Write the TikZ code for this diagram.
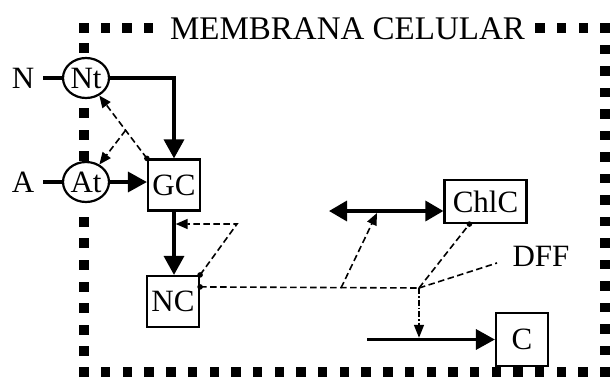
\documentclass[tikz,border=0pt]{standalone}
\usepackage{fontspec}
\setmainfont{Liberation Serif}
\usetikzlibrary{arrows.meta,shapes.geometric,calc}
\begin{document}
\begin{tikzpicture}[x=1pt,y=-1pt,
  every node/.style={font=\fontsize{31}{34}\selectfont},
  oval/.style={ellipse,draw,line width=2.2pt,inner sep=0pt,minimum width=46pt,minimum height=40pt},
  boxn/.style={rectangle,draw,line width=2.2pt,inner sep=0pt,minimum width=52pt,minimum height=51pt},
  lbl/.style={inner sep=0pt},
  thickln/.style={line width=3.4pt},
  thickarr/.style={line width=3.4pt,-{Triangle[length=19pt,width=20pt]}},
  dsh/.style={line width=1.6pt,dash pattern=on 6.5pt off 3.5pt},
  dsharr/.style={dsh,-{Triangle[length=12pt,width=10pt]}},
  dshdot/.style={line width=1.6pt,dash pattern=on 6pt off 2pt on 1.5pt off 2pt,-{Triangle[length=13pt,width=10pt]}},
  msq/.style={fill=black}
]
\useasboundingbox (0,0) rectangle (610,378);
% membrane
\foreach \x in {84,105.5,127,148.5,540,561.6,583.3,605} \fill[msq] (\x-4.7,28-4.7) rectangle ++(9.4,9.4);
\foreach \i in {1,...,16} \fill[msq] (605-4.7,28+21.5*\i-4.7) rectangle ++(9.4,9.4);
\foreach \i in {0,...,23} \fill[msq] (84+21.7*\i-4.7,372-4.7) rectangle ++(9.4,9.4);
\foreach \y in {48,113,135,156,222,243,265,287,308,330,351} \fill[msq] (84-4.7,\y-4.7) rectangle ++(9.4,9.4);
\node[lbl,font=\fontsize{33}{36}\selectfont] (title) at (347.5,29) {MEMBRANA CELULAR};
% nodes
\node[lbl] (N) at (23,78) {N};
\node[lbl] (A) at (23,182) {A};
\node[oval] (Nt) at (86,78) {Nt};
\node[oval] (At) at (86,182) {At};
\node[boxn] (GC) at (174,185) {GC};
\node[boxn] (NC) at (173,301.5) {NC};
\node[boxn,minimum width=82pt,minimum height=43pt] (ChlC) at (485.5,201.5) {ChlC};
\node[boxn,minimum height=53pt] (C) at (522,339.5) {C};
\node[lbl] (DFF) at (541,256) {DFF};
% solid connectors
\draw[thickln,shorten <=9pt] (N.east) -- (Nt.west);
\draw[thickln,shorten <=9pt] (A.east) -- (At.west);
\draw[thickarr] (Nt.east) -| (GC.north);
\draw[thickarr] (At.east) -- (At.east -| GC.west);
\draw[thickarr] (GC.south) -- (GC.south |- NC.north);
\coordinate (dl) at (329,211);
\draw[thickln,{Triangle[length=18pt,width=20pt]}-{Triangle[length=18pt,width=20pt]}] (dl) -- (dl -| ChlC.west);
\coordinate (cl) at (367,339.5);
\draw[thickarr] (cl) -- (C.west);
% dashed connectors
\draw[dsharr] (GC.north west) -- (Nt);
\fill (GC.north west) circle (2.8);
\coordinate (m1) at ($(GC.north west)!0.35!(Nt.center)$);
\draw[dsharr] (m1) -- (At);
\coordinate (fb) at (237,224);
\draw[dsharr,shorten >=1.7pt] (NC.north east) -- (fb) -- (fb -| GC.south);
\fill (NC.north east) circle (2.8);
\coordinate (p) at ($(NC.north east)+(0,12)$);
\coordinate (j) at (419,288);
\draw[dsh] (p) -- (j);
\fill (p) circle (2.8);
\coordinate (k) at (341,288);
\coordinate (k2) at (377,213);
\draw[dsharr] (k) -- (k2);
\coordinate (cb) at ($(ChlC.south west)+(26,0)$);
\draw[dsh] (j) -- (cb);
\fill (cb) circle (2.8);
\coordinate (dffend) at (497,263);
\draw[dsh] (j) -- (dffend);
\draw[dshdot,shorten >=1.7pt] (j) -- (j |- C.west);
\end{tikzpicture}
\end{document}
